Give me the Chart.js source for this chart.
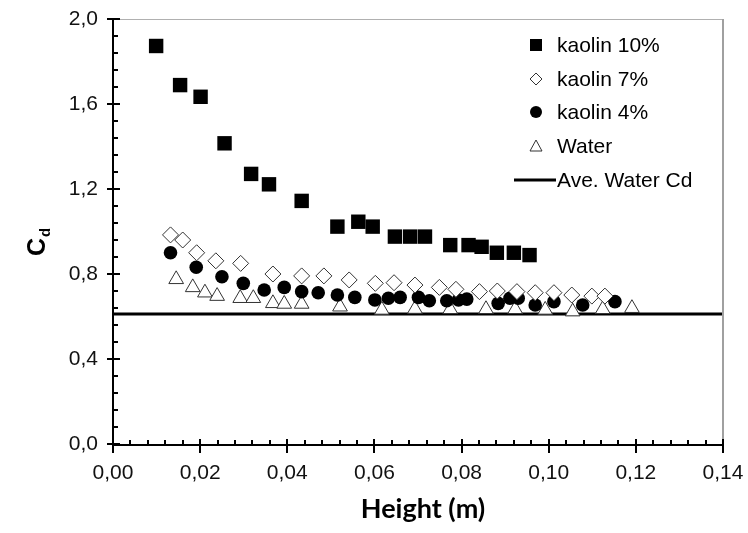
<!DOCTYPE html>
<html>
<head>
<meta charset="utf-8">
<script src="https://cdn.jsdelivr.net/npm/chart.js@4.4.0/dist/chart.umd.min.js"></script>
<style>
  html, body { margin: 0; padding: 0; background: #fff; }
</style>
</head>
<body>
<div style="width:748px;height:533px"><canvas id="mycanvas" width="748" height="533"></canvas></div>
<script>
// values
var k10Height = [0.0099, 0.0154, 0.0201, 0.0256, 0.0317, 0.0358, 0.0433, 0.0515, 0.0563, 0.0596, 0.0647, 0.0682, 0.0716, 0.0774, 0.0816, 0.0846, 0.0881, 0.0920, 0.0956];
var k10Cd     = [1.873, 1.689, 1.634, 1.415, 1.271, 1.222, 1.144, 1.023, 1.046, 1.023, 0.976, 0.976, 0.976, 0.936, 0.936, 0.928, 0.900, 0.900, 0.889];

var k7Height = [0.0132, 0.0160, 0.0192, 0.0236, 0.0293, 0.0367, 0.0433, 0.0484, 0.0542, 0.0602, 0.0645, 0.0693, 0.0749, 0.0787, 0.0841, 0.0882, 0.0927, 0.0969, 0.1012, 0.1053, 0.1099, 0.1129];
var k7Cd     = [0.984, 0.960, 0.900, 0.862, 0.850, 0.800, 0.791, 0.791, 0.772, 0.756, 0.759, 0.748, 0.737, 0.728, 0.717, 0.720, 0.717, 0.712, 0.712, 0.701, 0.696, 0.696];

var k4Height = [0.0132, 0.0191, 0.0250, 0.0299, 0.0347, 0.0393, 0.0433, 0.0471, 0.0515, 0.0555, 0.0601, 0.0632, 0.0659, 0.0701, 0.0726, 0.0766, 0.0793, 0.0812, 0.0884, 0.0911, 0.0930, 0.0969, 0.1012, 0.1078, 0.1152];
var k4Cd     = [0.900, 0.832, 0.787, 0.756, 0.725, 0.737, 0.717, 0.712, 0.701, 0.690, 0.678, 0.686, 0.690, 0.690, 0.674, 0.674, 0.678, 0.682, 0.662, 0.686, 0.686, 0.654, 0.670, 0.654, 0.670];

var waterHeight = [0.0145, 0.0183, 0.0211, 0.0239, 0.0292, 0.0322, 0.0367, 0.0393, 0.0433, 0.0521, 0.0617, 0.0693, 0.0774, 0.0856, 0.0923, 0.0992, 0.1055, 0.1124, 0.1191];
var waterCd     = [0.775, 0.737, 0.712, 0.696, 0.686, 0.686, 0.662, 0.659, 0.659, 0.646, 0.631, 0.635, 0.634, 0.634, 0.634, 0.631, 0.623, 0.634, 0.639];

var aveWaterHeight = [0, 0.14];
var aveWaterCd = [0.612, 0.612];

var xTicks = [0, 0.02, 0.04, 0.06, 0.08, 0.10, 0.12, 0.14];
var yTicks = [0, 0.4, 0.8, 1.2, 1.6, 2.0];

var seriesNames = ["kaolin 10%", "kaolin 7%", "kaolin 4%", "Water", "Ave. Water Cd"];

function toPoints(xs, ys) {
  var out = [];
  for (var i = 0; i < xs.length; i++) out.push({x: xs[i], y: ys[i]});
  return out;
}

var tickFont = {family: "'Liberation Sans', Arial, sans-serif", size: 21};

// axes, minor ticks, frame, titles, legend
var decorations = {
  id: 'decorations',
  afterDatasetsDraw: function(chart) {
    var ctx = chart.ctx, a = chart.chartArea;
    var xs = chart.scales.x, ys = chart.scales.y;
    ctx.save();

    ctx.strokeStyle = '#b0b0b0';
    ctx.lineWidth = 1;
    ctx.beginPath();
    ctx.moveTo(a.left, a.top + 0.5);
    ctx.lineTo(a.right, a.top + 0.5);
    ctx.stroke();
    ctx.strokeStyle = '#a0a0a0';
    ctx.lineWidth = 2;
    ctx.beginPath();
    ctx.moveTo(a.right, a.top);
    ctx.lineTo(a.right, a.bottom);
    ctx.stroke();

    ctx.strokeStyle = '#000';
    ctx.lineWidth = 2;
    ctx.beginPath();
    ctx.moveTo(a.left, a.top);
    ctx.lineTo(a.left, a.bottom + 1);
    ctx.lineTo(a.right, a.bottom + 1);
    ctx.stroke();

    ctx.beginPath();
    for (var i = 0; i <= 35; i++) {
      var px = Math.round(xs.getPixelForValue(i * 0.004));
      if (i % 5 == 0) { ctx.moveTo(px, a.bottom - 5); ctx.lineTo(px, a.bottom + 9); }
      else { ctx.moveTo(px, a.bottom + 1); ctx.lineTo(px, a.bottom - 4); }
    }
    for (var j = 0; j <= 25; j++) {
      var py = Math.round(ys.getPixelForValue(j * 0.08));
      if (j % 5 == 0) { ctx.moveTo(a.left - 6, py); ctx.lineTo(a.left + 7, py); }
      else { ctx.moveTo(a.left, py); ctx.lineTo(a.left + 5, py); }
    }
    ctx.stroke();

    // y title C_d
    ctx.fillStyle = '#000';
    ctx.translate(45, 256);
    ctx.rotate(-Math.PI / 2);
    ctx.textBaseline = 'alphabetic';
    ctx.textAlign = 'left';
    ctx.font = "bold 25px 'Liberation Sans', Arial, sans-serif";
    ctx.fillText('C', 0, 0);
    var cw = ctx.measureText('C').width;
    ctx.font = "bold 15px 'Liberation Sans', Arial, sans-serif";
    ctx.fillText('d', cw + 1, 5);
    ctx.setTransform(1, 0, 0, 1, 0, 0);

    // x title
    ctx.font = "bold 27px Lato, 'Open Sans', sans-serif";
    ctx.textAlign = 'center';
    ctx.textBaseline = 'alphabetic';
    ctx.fillText('Height (m)', 423, 518);

    // legend
    var lx = 536, tx = 557, rows = [45, 79, 112, 146, 180];
    ctx.font = "21px 'Liberation Sans', Arial, sans-serif";
    ctx.textAlign = 'left';
    ctx.textBaseline = 'middle';
    ctx.fillStyle = '#000';
    for (var r = 0; r < seriesNames.length; r++) {
      ctx.fillText(seriesNames[r], tx, rows[r] + 1);
    }
    ctx.fillRect(lx - 6, rows[0] - 6, 12, 12);
    ctx.lineWidth = 1;
    ctx.strokeStyle = '#333';
    ctx.beginPath();
    ctx.moveTo(lx, rows[1] - 6); ctx.lineTo(lx + 6, rows[1]); ctx.lineTo(lx, rows[1] + 6); ctx.lineTo(lx - 6, rows[1]); ctx.closePath();
    ctx.stroke();
    ctx.beginPath();
    ctx.arc(lx, rows[2], 6, 0, Math.PI * 2);
    ctx.fill();
    ctx.beginPath();
    ctx.moveTo(lx, rows[3] - 6); ctx.lineTo(lx + 6, rows[3] + 5); ctx.lineTo(lx - 6, rows[3] + 5); ctx.closePath();
    ctx.stroke();
    ctx.lineWidth = 3;
    ctx.strokeStyle = '#000';
    ctx.beginPath();
    ctx.moveTo(514, rows[4]); ctx.lineTo(556, rows[4]);
    ctx.stroke();

    ctx.restore();
  }
};

var chartdata = {
  datasets: [
    {
      label: seriesNames[4],
      type: 'line',
      data: toPoints(aveWaterHeight, aveWaterCd),
      borderColor: '#000',
      borderWidth: 3,
      pointRadius: 0,
      fill: false,
      order: 5
    },
    {
      label: seriesNames[3],
      data: toPoints(waterHeight, waterCd),
      pointStyle: 'triangle',
      pointRadius: 8.5,
      backgroundColor: '#fff',
      borderColor: '#333',
      borderWidth: 1,
      order: 4
    },
    {
      label: seriesNames[2],
      data: toPoints(k4Height, k4Cd),
      pointStyle: 'circle',
      pointRadius: 6.8,
      backgroundColor: '#000',
      borderColor: '#000',
      borderWidth: 0,
      order: 3
    },
    {
      label: seriesNames[1],
      data: toPoints(k7Height, k7Cd),
      pointStyle: 'rectRot',
      pointRadius: 8,
      backgroundColor: '#fff',
      borderColor: '#333',
      borderWidth: 1,
      order: 2
    },
    {
      label: seriesNames[0],
      data: toPoints(k10Height, k10Cd),
      pointStyle: 'rect',
      pointRadius: 10.2,
      backgroundColor: '#000',
      borderColor: '#000',
      borderWidth: 0,
      order: 1
    }
  ]
};

var ctx = document.getElementById('mycanvas');

var CdChart = new Chart(ctx, {
  type: 'scatter',
  data: chartdata,
  plugins: [decorations],
  options: {
    responsive: false,
    animation: false,
    layout: { padding: { top: 19, right: 25, left: 0, bottom: 0 } },
    plugins: {
      legend: { display: false },
      tooltip: { enabled: false }
    },
    scales: {
      x: {
        type: 'linear',
        min: 0,
        max: 0.14,
        afterFit: function(scale) {
          scale.height = 89;
          scale.paddingLeft = 0;
          scale.paddingRight = 0;
        },
        afterBuildTicks: function(scale) { scale.ticks = xTicks.map(function(v) { return {value: v}; }); },
        grid: { display: false, drawTicks: false },
        border: { display: false },
        ticks: {
          padding: 17,
          color: '#111',
          font: tickFont,
          maxRotation: 0,
          callback: function(v) { return v.toFixed(2).replace('.', ','); }
        }
      },
      y: {
        type: 'linear',
        min: 0,
        max: 2,
        afterFit: function(scale) {
          scale.width = 113;
          scale.paddingTop = 0;
          scale.paddingBottom = 0;
        },
        afterBuildTicks: function(scale) { scale.ticks = yTicks.map(function(v) { return {value: v}; }); },
        grid: { display: false, drawTicks: false },
        border: { display: false },
        ticks: {
          padding: 15,
          color: '#111',
          font: tickFont,
          callback: function(v) { return v.toFixed(1).replace('.', ','); }
        }
      }
    }
  }
});
</script>
</body>
</html>
